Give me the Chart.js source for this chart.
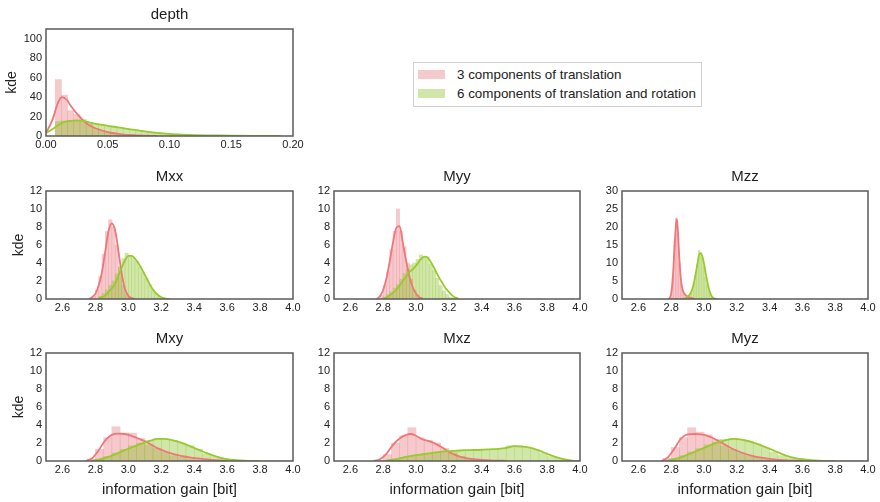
<!DOCTYPE html>
<html>
<head>
<meta charset="utf-8">
<script src="https://cdn.jsdelivr.net/npm/chart.js@4.4.1/dist/chart.umd.min.js"></script>
<style>
    html, body { margin: 0; padding: 0; background: #fff; overflow: hidden; }
    #lienzo { position: relative; width: 880px; height: 502px; }
    .panel { position: absolute; }
    #leyenda { position: absolute; left: 413px; top: 62px; width: 287px; height: 43px; border: 1px solid #d0d0d0;
               font-family: 'Liberation Sans', Arial, sans-serif; font-size: 13.4px; color: #222; background: #fff; }
    .item { position: absolute; left: 4px; height: 18px; line-height: 18px; white-space: nowrap; }
    .muestra { display: inline-block; width: 27px; height: 9px; vertical-align: middle; margin-right: 12px; margin-top: -2px; }
</style>
</head>
<body>
<div id="lienzo">
    <canvas id="g_depth" class="panel"></canvas>
    <canvas id="g_mxx" class="panel"></canvas>
    <canvas id="g_myy" class="panel"></canvas>
    <canvas id="g_mzz" class="panel"></canvas>
    <canvas id="g_mxy" class="panel"></canvas>
    <canvas id="g_mxz" class="panel"></canvas>
    <canvas id="g_myz" class="panel"></canvas>
    <div id="leyenda"></div>
</div>
<script>
// SERIES Y TICKS
var SERIES = ['3 components of translation', '6 components of translation and rotation'];
var TICKS_X_DEPTH = [0.00, 0.05, 0.10, 0.15, 0.20];
var TICKS_X_M = [2.6, 2.8, 3.0, 3.2, 3.4, 3.6, 3.8, 4.0];
var TICKS_Y_DEPTH = [0, 20, 40, 60, 80, 100];
var TICKS_Y_M = [0, 2, 4, 6, 8, 10, 12];
var TICKS_Y_MZZ = [0, 5, 10, 15, 20, 25, 30];

// DEPTH
var depthBins = [0.010, 0.015, 0.020, 0.025, 0.030, 0.035, 0.040, 0.045, 0.050, 0.055, 0.060, 0.065, 0.070, 0.075, 0.080, 0.085,
                 0.090, 0.095, 0.100, 0.105, 0.110, 0.115, 0.120, 0.125, 0.130, 0.135, 0.140, 0.145, 0.150, 0.155, 0.160, 0.165, 0.170];
var depthRedHist = [58, 42, 26, 22, 17, 12, 8, 6, 4, 3, 2, 1.5, 1, 0.6, 0.4, 0.2,
                    0, 0, 0, 0, 0, 0, 0, 0, 0, 0, 0, 0, 0, 0, 0, 0, 0];
var depthGreenHist = [15, 15.5, 16, 16, 15, 14, 12.5, 11, 10, 9, 8.5, 7, 6, 5, 4.5, 4,
                      3.2, 2.6, 2.2, 1.8, 1.5, 1.2, 1, 0.8, 0.6, 0.5, 0.4, 0.3, 0.3, 0.2, 0.15, 0.1, 0.1];
var depthKdeX = [0, 0.005, 0.01, 0.013, 0.017, 0.02, 0.025, 0.03, 0.035, 0.04, 0.05, 0.06, 0.07, 0.08, 0.09,
                 0.10, 0.11, 0.12, 0.13, 0.14, 0.15, 0.17, 0.19];
var depthRedKde = [3, 16, 35, 40, 37, 31, 23, 16, 11, 8, 4, 2, 0.8, 0.3, 0.1,
                   null, null, null, null, null, null, null, null];
var depthGreenKde = [3, 7, 11, 13.5, 15, 15.5, 16, 15.5, 14, 12.5, 10.5, 8.5, 6.5, 4.8, 3.3,
                     2.2, 1.5, 1.0, 0.7, 0.5, 0.35, 0.15, 0.05];

// MXX
var mxxBins = [2.79, 2.81, 2.83, 2.85, 2.87, 2.89, 2.91, 2.93, 2.95, 2.97, 2.99, 3.01, 3.03, 3.05, 3.07, 3.09, 3.11, 3.13, 3.15, 3.17, 3.19, 3.21];
var mxxRedHist = [0.3, 1, 2.5, 5, 7.5, 8.8, 8, 6, 3.5, 1.5, 0.5, 0.2, 0, 0, 0, 0, 0, 0, 0, 0, 0, 0];
var mxxGreenHist = [0, 0, 0.3, 0.6, 1.0, 1.5, 2.0, 2.8, 3.6, 4.5, 5.1, 4.8, 4.6, 4.2, 3.6, 3.0, 2.3, 1.6, 1.0, 0.6, 0.3, 0.1];
var mxxKdeX = [2.76, 2.78, 2.80, 2.82, 2.84, 2.86, 2.88, 2.90, 2.92, 2.94, 2.96, 2.98, 3.00, 3.02, 3.04, 3.06, 3.08, 3.10, 3.12, 3.14, 3.16, 3.18, 3.20, 3.22, 3.25];
var mxxRedKde = [0, 0.2, 0.6, 1.5, 3, 5.3, 7.6, 8.4, 7.6, 5.3, 2.8, 1.1, 0.35, 0.1, 0.02, null, null, null, null, null, null, null, null, null, null];
var mxxGreenKde = [null, null, null, 0.1, 0.2, 0.4, 0.8, 1.2, 1.7, 2.6, 3.5, 4.3, 4.8, 4.8, 4.5, 4.0, 3.4, 2.7, 2.0, 1.3, 0.8, 0.45, 0.2, 0.08, 0];

// MYY
var myyBins = [2.79, 2.81, 2.83, 2.85, 2.87, 2.89, 2.91, 2.93, 2.95, 2.97, 2.99, 3.01, 3.03, 3.05, 3.07, 3.09, 3.11, 3.13, 3.15, 3.17, 3.19, 3.21, 3.23];
var myyRedHist = [0.4, 1.5, 3, 5.5, 7.5, 10, 7.5, 5.8, 4, 2.2, 1, 0.4, 0.1, 0, 0, 0, 0, 0, 0, 0, 0, 0, 0];
var myyGreenHist = [0, 0.2, 0.5, 0.8, 1.2, 1.6, 2.2, 2.8, 3.3, 3.8, 4.0, 4.4, 4.9, 4.6, 4.7, 3.9, 3.2, 2.3, 1.5, 0.9, 0.5, 0.2, 0.1];
var myyKdeX = [2.76, 2.78, 2.80, 2.82, 2.84, 2.86, 2.88, 2.90, 2.92, 2.94, 2.96, 2.98, 3.00, 3.02, 3.04, 3.06, 3.08, 3.10, 3.12, 3.14, 3.16, 3.18, 3.20, 3.22, 3.24, 3.26];
var myyRedKde = [0, 0.3, 1.0, 2.3, 4.2, 6.3, 7.9, 8.1, 6.2, 4.2, 2.5, 1.3, 0.6, 0.2, 0.05, null, null, null, null, null, null, null, null, null, null, null];
var myyGreenKde = [null, null, 0.05, 0.2, 0.4, 0.7, 1.0, 1.5, 2.0, 2.5, 3.0, 3.3, 3.7, 4.2, 4.6, 4.7, 4.4, 3.8, 3.1, 2.4, 1.8, 1.2, 0.8, 0.4, 0.15, 0.03];

// MZZ
var mzzBins = [2.80, 2.81, 2.82, 2.83, 2.84, 2.85, 2.86, 2.87, 2.88, 2.89, 2.90, 2.91, 2.92, 2.93, 2.94, 2.95, 2.96, 2.97, 2.98, 2.99,
               3.00, 3.01, 3.02, 3.03, 3.04, 3.05, 3.06];
var mzzRedHist = [1, 6, 16, 22.5, 18, 10, 4.5, 2.5, 1.5, 1, 0.7, 0.4, 0.2, 0, 0, 0, 0, 0, 0, 0, 0, 0, 0, 0, 0, 0, 0];
var mzzGreenHist = [0, 0, 0, 0, 0, 0, 0, 0, 0, 0.3, 0.6, 1, 1.6, 2.5, 4.5, 7, 9.5, 13.5, 13, 11.5, 9, 6, 4, 2.3, 1.2, 0.5, 0.2];
var mzzKdeX = [2.78, 2.79, 2.80, 2.81, 2.82, 2.83, 2.835, 2.84, 2.85, 2.86, 2.87, 2.88, 2.89, 2.90, 2.91, 2.92, 2.93, 2.94, 2.95, 2.96,
               2.97, 2.98, 2.99, 3.00, 3.01, 3.02, 3.03, 3.04, 3.05, 3.06, 3.08];
var mzzRedKde = [0, 0.3, 1.5, 6, 14, 21, 22.2, 19.5, 11, 5, 2.5, 1.5, 1, 0.7, 0.5, 0.3, 0.15, 0.05,
                 null, null, null, null, null, null, null, null, null, null, null, null, null];
var mzzGreenKde = [null, null, null, null, null, null, null, null, null, null, 0.05, 0.1, 0.3, 0.6, 1.1, 1.8, 3.0, 4.8, 7.2, 9.8,
                   12.2, 12.7, 11.8, 9.8, 7.2, 4.8, 2.8, 1.4, 0.6, 0.2, 0];

// FILA INFERIOR: BINS DE 0.05
var binsAnchos = [2.775, 2.825, 2.875, 2.925, 2.975, 3.025, 3.075, 3.125, 3.175, 3.225, 3.275, 3.325, 3.375, 3.425, 3.475,
                  3.525, 3.575, 3.625, 3.675, 3.725, 3.775, 3.825, 3.875, 3.925, 3.975];

// MXY
var mxyRedHist = [0.2, 1.3, 2.6, 3.8, 3.1, 3.1, 2.5, 1.8, 1.4, 1.0, 0.6, 0.4, 0.25, 0.15, 0.1, 0.05, 0, 0, 0, 0, 0, 0, 0, 0, 0];
var mxyGreenHist = [0, 0.2, 0.5, 0.9, 1.3, 1.7, 2.0, 2.3, 2.5, 2.4, 2.3, 2.0, 1.7, 1.3, 0.8, 0.5, 0.3, 0.15, 0.1, 0.05, 0, 0, 0, 0, 0];
var mxyKdeX = [2.74, 2.78, 2.82, 2.86, 2.90, 2.94, 2.98, 3.02, 3.06, 3.10, 3.14, 3.18, 3.22, 3.26, 3.30, 3.34, 3.38, 3.42, 3.46, 3.50,
               3.55, 3.60, 3.65, 3.70, 3.80];
var mxyRedKde = [0, 0.3, 1.2, 2.3, 2.9, 3.05, 3.0, 2.8, 2.5, 2.2, 1.8, 1.4, 1.1, 0.85, 0.65, 0.5, 0.38, 0.28, 0.2, 0.13,
                 0.07, 0.03, null, null, null];
var mxyGreenKde = [null, 0.05, 0.15, 0.35, 0.6, 0.9, 1.2, 1.5, 1.8, 2.05, 2.3, 2.45, 2.45, 2.35, 2.15, 1.9, 1.6, 1.3, 1.0, 0.7,
                   0.4, 0.2, 0.1, 0.05, 0];

// MXZ
var mxzRedHist = [0.1, 0.7, 2.0, 2.8, 3.7, 2.6, 2.3, 2.0, 1.4, 0.9, 0.5, 0.3, 0.2, 0.1, 0.05, 0, 0, 0, 0, 0, 0, 0, 0, 0, 0];
var mxzGreenHist = [0, 0.05, 0.2, 0.35, 0.6, 0.7, 0.85, 0.95, 1.05, 1.1, 1.15, 1.2, 1.2, 1.3, 1.3, 1.4, 1.7, 1.7, 1.5, 1.3,
                    0.9, 0.5, 0.3, 0.1, 0.05];
var mxzKdeX = [2.74, 2.78, 2.82, 2.86, 2.90, 2.94, 2.97, 3.00, 3.04, 3.08, 3.12, 3.16, 3.20, 3.25, 3.30, 3.35, 3.40, 3.45, 3.50, 3.55,
               3.60, 3.65, 3.70, 3.75, 3.80, 3.85, 3.90, 3.95, 4.00];
var mxzRedKde = [0, 0.2, 0.8, 1.8, 2.5, 2.9, 3.0, 2.8, 2.4, 2.2, 1.9, 1.5, 1.0, 0.6, 0.35, 0.2, 0.12, 0.07, 0.04, 0.02,
                 null, null, null, null, null, null, null, null, null];
var mxzGreenKde = [null, null, 0.05, 0.15, 0.3, 0.45, 0.55, 0.65, 0.75, 0.85, 0.95, 1.05, 1.1, 1.15, 1.2, 1.22, 1.25, 1.3, 1.35, 1.45,
                   1.65, 1.6, 1.45, 1.15, 0.8, 0.45, 0.2, 0.05, 0];

// MYZ
var myzRedHist = [0.3, 1.5, 2.6, 3.7, 3.2, 2.9, 2.4, 1.7, 1.3, 0.9, 0.6, 0.4, 0.25, 0.12, 0.05, 0, 0, 0, 0, 0, 0, 0, 0, 0, 0];
var myzGreenHist = [0, 0.3, 0.6, 1.0, 1.4, 1.8, 2.1, 2.4, 2.5, 2.4, 2.2, 1.9, 1.5, 1.0, 0.6, 0.35, 0.2, 0.1, 0.05, 0.02, 0, 0, 0, 0, 0];
var myzRedKde = [0, 0.4, 1.4, 2.5, 2.95, 3.0, 2.95, 2.8, 2.5, 2.1, 1.7, 1.3, 1.0, 0.75, 0.55, 0.4, 0.28, 0.2, 0.13, 0.08,
                 0.04, 0.02, null, null, null];
var myzGreenKde = [null, 0.05, 0.2, 0.4, 0.7, 1.0, 1.3, 1.6, 1.9, 2.15, 2.35, 2.45, 2.4, 2.25, 2.05, 1.8, 1.5, 1.2, 0.9, 0.6,
                   0.35, 0.2, 0.1, 0.05, 0];

// ESTILOS
var FUENTE = "'Liberation Sans', Arial, sans-serif";
var ROJO_LINEA = 'rgb(240,118,122)';
var ROJO_BARRA = 'rgba(232,112,122,0.38)';
var VERDE_LINEA = 'rgb(152,202,45)';
var VERDE_BARRA = 'rgba(140,192,40,0.4)';
var MARGEN_LADO = 48;
var MARGEN_SUP = 30;
var MARGEN_INF = 45;

// MARCO ALREDEDOR DEL AREA
var marco = {
    id: 'marco',
    afterDraw: function(chart) {
        var a = chart.chartArea;
        var ctx = chart.ctx;
        ctx.save();
        ctx.strokeStyle = '#5a5a5a';
        ctx.lineWidth = 1.5;
        ctx.strokeRect(a.left, a.top, a.right - a.left, a.bottom - a.top);
        ctx.restore();
    }
};

function Puntos(xs, ys) {
    return xs.map(function(x, i) { return { x: x, y: ys[i] }; });
}

function Fijar_Ticks(valores) {
    return function(scale) {
        scale.ticks = valores.map(function(v) { return { value: v }; });
    };
}

// DIBUJAR UN PANEL
function Dibujar_Panel(p) {
    var canvas = document.getElementById(p.id);
    var w = p.right - p.left;
    var h = p.bottom - p.top;
    canvas.width = w + 2 * MARGEN_LADO;
    canvas.height = h + MARGEN_SUP + MARGEN_INF;
    canvas.style.left = (p.left - MARGEN_LADO) + 'px';
    canvas.style.top = (p.top - MARGEN_SUP) + 'px';

    new Chart(canvas.getContext('2d'), {
        type: 'bar',
        data: {
            datasets: [
                {
                    type: 'line',
                    label: SERIES[0],
                    data: Puntos(p.kdeX, p.redKde),
                    borderColor: ROJO_LINEA,
                    borderWidth: 1.8,
                    pointRadius: 0,
                    cubicInterpolationMode: 'monotone',
                    fill: false,
                    order: 1
                },
                {
                    type: 'line',
                    label: SERIES[1],
                    data: Puntos(p.kdeX, p.greenKde),
                    borderColor: VERDE_LINEA,
                    borderWidth: 1.8,
                    pointRadius: 0,
                    cubicInterpolationMode: 'monotone',
                    fill: false,
                    order: 0
                },
                {
                    label: SERIES[1],
                    data: Puntos(p.bins, p.greenHist),
                    backgroundColor: VERDE_BARRA,
                    order: 2
                },
                {
                    label: SERIES[0],
                    data: Puntos(p.bins, p.redHist),
                    backgroundColor: ROJO_BARRA,
                    order: 3
                }
            ]
        },
        options: {
            responsive: false,
            animation: false,
            devicePixelRatio: 1,
            layout: { padding: 0 },
            datasets: {
                bar: { grouped: false, barPercentage: 1, categoryPercentage: 1, borderWidth: 0 }
            },
            plugins: {
                legend: { display: false },
                tooltip: { enabled: false },
                title: {
                    display: true,
                    text: p.titulo,
                    color: '#1e1e1e',
                    font: { family: FUENTE, size: 15, weight: 'normal' },
                    padding: { top: 7, bottom: 5 }
                }
            },
            scales: {
                x: {
                    type: 'linear',
                    offset: false,
                    min: p.xMin,
                    max: p.xMax,
                    grid: { display: false, drawTicks: false },
                    border: { display: false },
                    afterBuildTicks: Fijar_Ticks(p.xTicks),
                    ticks: {
                        color: '#222',
                        font: { family: FUENTE, size: 11 },
                        padding: 2,
                        maxRotation: 0,
                        autoSkip: false,
                        callback: function(value) { return value.toFixed(p.xDec); }
                    },
                    title: {
                        display: p.xTitulo,
                        text: 'information gain [bit]',
                        color: '#222',
                        font: { family: FUENTE, size: 15 },
                        padding: { top: 0, bottom: 7 }
                    },
                    afterFit: function(scale) { scale.height = MARGEN_INF; }
                },
                y: {
                    position: 'left',
                    min: 0,
                    max: p.yMax,
                    grid: { display: false, drawTicks: false },
                    border: { display: false },
                    afterBuildTicks: Fijar_Ticks(p.yTicks),
                    ticks: {
                        color: '#222',
                        font: { family: FUENTE, size: 11 },
                        padding: 4
                    },
                    title: {
                        display: p.yTitulo,
                        text: 'kde',
                        color: '#222',
                        font: { family: FUENTE, size: 14 },
                        padding: { top: p.kdePad, bottom: 0 }
                    },
                    afterFit: function(scale) { scale.width = MARGEN_LADO; }
                },
                y2: {
                    position: 'right',
                    display: true,
                    grid: { display: false, drawTicks: false },
                    border: { display: false },
                    ticks: { display: false },
                    afterFit: function(scale) { scale.width = MARGEN_LADO; }
                }
            }
        },
        plugins: [marco]
    });
}

// LEYENDA
function Dibujar_Leyenda() {
    var colores = [ROJO_BARRA, VERDE_BARRA];
    var html = '';
    SERIES.forEach(function(nombre, i) {
        html += '<div class="item" style="top:' + (3 + i * 19) + 'px">';
        html += '<span class="muestra" style="background:' + colores[i] + '"></span>' + nombre;
        html += '</div>';
    });
    document.getElementById('leyenda').innerHTML = html;
}

// PANELES
var M_BASE = { xMin: 2.5, xMax: 4.0, xTicks: TICKS_X_M, xDec: 1, yMax: 12, yTicks: TICKS_Y_M, kdePad: 13 };

function Con(base, extra) {
    var r = {};
    Object.keys(base).forEach(function(k) { r[k] = base[k]; });
    Object.keys(extra).forEach(function(k) { r[k] = extra[k]; });
    return r;
}

Dibujar_Panel({
    id: 'g_depth', titulo: 'depth', left: 46, top: 29, right: 293, bottom: 136,
    xMin: 0, xMax: 0.2, xTicks: TICKS_X_DEPTH, xDec: 2, yMax: 110, yTicks: TICKS_Y_DEPTH,
    xTitulo: false, yTitulo: true, kdePad: 6,
    bins: depthBins, redHist: depthRedHist, greenHist: depthGreenHist,
    kdeX: depthKdeX, redKde: depthRedKde, greenKde: depthGreenKde
});
Dibujar_Panel(Con(M_BASE, {
    id: 'g_mxx', titulo: 'Mxx', left: 46, top: 191, right: 293, bottom: 299, xTitulo: false, yTitulo: true,
    bins: mxxBins, redHist: mxxRedHist, greenHist: mxxGreenHist, kdeX: mxxKdeX, redKde: mxxRedKde, greenKde: mxxGreenKde
}));
Dibujar_Panel(Con(M_BASE, {
    id: 'g_myy', titulo: 'Myy', left: 334, top: 191, right: 580, bottom: 299, xTitulo: false, yTitulo: false,
    bins: myyBins, redHist: myyRedHist, greenHist: myyGreenHist, kdeX: myyKdeX, redKde: myyRedKde, greenKde: myyGreenKde
}));
Dibujar_Panel(Con(M_BASE, {
    id: 'g_mzz', titulo: 'Mzz', left: 622, top: 191, right: 868, bottom: 299, xTitulo: false, yTitulo: false,
    yMax: 30, yTicks: TICKS_Y_MZZ,
    bins: mzzBins, redHist: mzzRedHist, greenHist: mzzGreenHist, kdeX: mzzKdeX, redKde: mzzRedKde, greenKde: mzzGreenKde
}));
Dibujar_Panel(Con(M_BASE, {
    id: 'g_mxy', titulo: 'Mxy', left: 46, top: 353, right: 293, bottom: 461, xTitulo: true, yTitulo: true,
    bins: binsAnchos, redHist: mxyRedHist, greenHist: mxyGreenHist, kdeX: mxyKdeX, redKde: mxyRedKde, greenKde: mxyGreenKde
}));
Dibujar_Panel(Con(M_BASE, {
    id: 'g_mxz', titulo: 'Mxz', left: 334, top: 353, right: 580, bottom: 461, xTitulo: true, yTitulo: false,
    bins: binsAnchos, redHist: mxzRedHist, greenHist: mxzGreenHist, kdeX: mxzKdeX, redKde: mxzRedKde, greenKde: mxzGreenKde
}));
Dibujar_Panel(Con(M_BASE, {
    id: 'g_myz', titulo: 'Myz', left: 622, top: 353, right: 868, bottom: 461, xTitulo: true, yTitulo: false,
    bins: binsAnchos, redHist: myzRedHist, greenHist: myzGreenHist, kdeX: mxyKdeX, redKde: myzRedKde, greenKde: myzGreenKde
}));
Dibujar_Leyenda();
</script>
</body>
</html>
